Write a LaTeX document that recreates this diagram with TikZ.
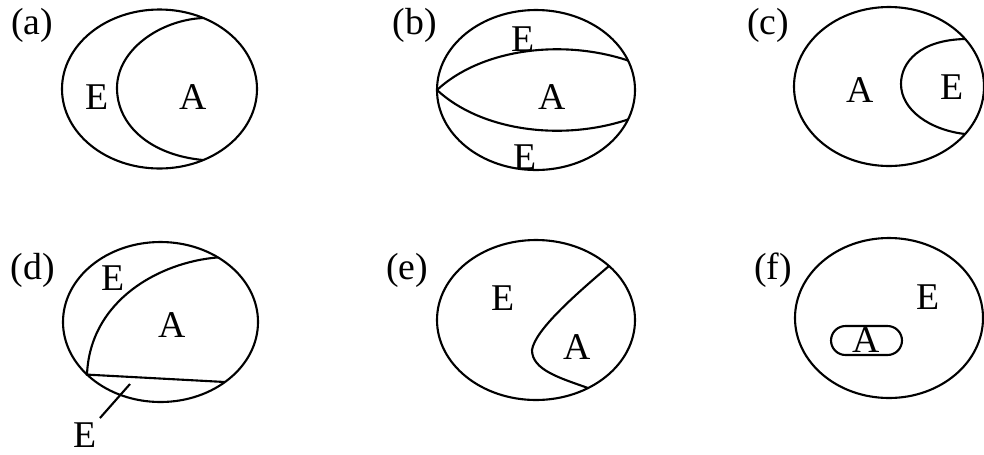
\documentclass[tikz,border=0pt]{standalone}
\usepackage{fontspec}
\setmainfont{Liberation Serif}
\usetikzlibrary{positioning}

\begin{document}
\begin{tikzpicture}[x=0.02cm, y=-0.02cm, line width=1.2pt,
  every node/.style={font=\fontsize{21.5}{24}\selectfont, inner sep=2pt},
  pill/.style={draw, rounded corners=0.29cm, minimum width=1.42cm, minimum height=0.58cm, inner sep=0pt}]
  \useasboundingbox (0,0) rectangle (984,454);
  % (a)
  \node (tagA) at (32,25) {(a)};
  \draw (159.5,89) ellipse [x radius=97.5, y radius=79.5];
  \draw (203,18) .. controls (160,20) and (117,50) .. (117,88) .. controls (117,125) and (150,155) .. (203,160);
  \node (eA) at (97,97) {E};
  \node (aA) at (193,97) {A};
  % (b)
  \node (tagB) at (415,25) {(b)};
  \draw (536,90) ellipse [x radius=99, y radius=80];
  \draw (437,90) .. controls (480,50) and (560,38) .. (628,60.5);
  \draw (437,90) .. controls (480,130) and (560,142) .. (628,119.5);
  \node (eB1) at (523,39) {E};
  \node (aB) at (552,97) {A};
  \node (eB2) at (525,157) {E};
  % (c)
  \node (tagC) at (768,25) {(c)};
  \draw (889,86.5) ellipse [x radius=95, y radius=79.5];
  \draw (965,39) .. controls (920,40) and (901,62) .. (901,84) .. controls (901,110) and (930,130) .. (965,134);
  \node (aC) at (860,90) {A};
  \node (eC) at (952,87) {E};
  % (d)
  \node (tagD) at (33,270) {(d)};
  \draw (160.5,322) ellipse [x radius=97.5, y radius=80];
  \draw (218,257.4) .. controls (160,262) and (90,300) .. (87,374.6) -- (225,382);
  \node (eD1) at (113,278) {E};
  \node (aD) at (172,325) {A};
  \node (eD2) at (85,435) {E};
  \coordinate (dptr) at (130,384);
  \draw (eD2) -- (dptr);
  % (e)
  \node (tagE) at (407,270) {(e)};
  \draw (536,320) ellipse [x radius=99, y radius=80];
  \draw (609,266) .. controls (575,295) and (535,330) .. (532,350) .. controls (532,370) and (560,378) .. (588,388);
  \node (eE) at (503,298) {E};
  \node (aE) at (577,347) {A};
  % (f)
  \node (tagF) at (773,270) {(f)};
  \draw (889,318) ellipse [x radius=94, y radius=80];
  \node[pill] (aF) at (866.5,340.5) {A};
  \node (eF) at (928,297) {E};
\end{tikzpicture}
\end{document}
